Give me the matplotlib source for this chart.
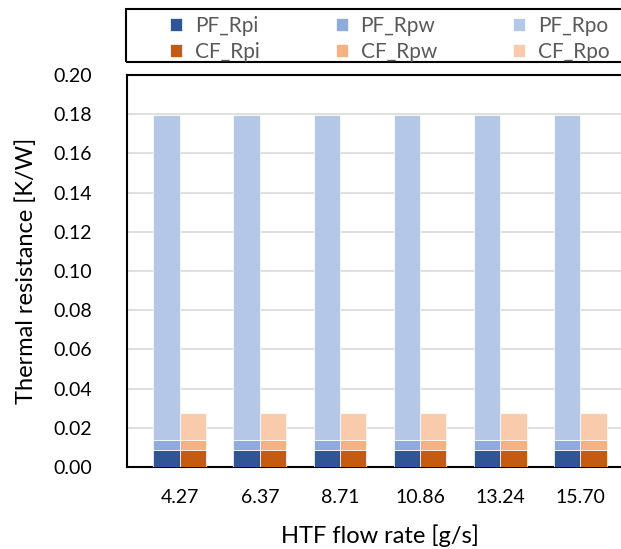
import matplotlib.pyplot as plt
import numpy as np
from matplotlib.patches import Rectangle

plt.rcParams['font.family'] = ['Lato', 'DejaVu Sans']

flow = ['4.27', '6.37', '8.71', '10.86', '13.24', '15.70']
pf_rpi = [0.0086] * 6
pf_rpw = [0.0051] * 6
pf_rpo = [0.1660] * 6
cf_rpi = [0.0086] * 6
cf_rpw = [0.0051] * 6
cf_rpo = [0.0136] * 6

c_pf = ['#2F5597', '#8FAADC', '#B4C7E7']
c_cf = ['#C55A11', '#F4B183', '#F8CBAD']

fig = plt.figure(figsize=(6.21, 5.49), dpi=100)
ax = fig.add_axes([127/621, 1-467/549, 506/621, 392/549])

x = np.arange(len(flow))
w = 0.33

hs = []
bot = np.zeros(len(flow))
for vals, c, lab in zip([pf_rpi, pf_rpw, pf_rpo], c_pf, ['PF_Rpi', 'PF_Rpw', 'PF_Rpo']):
    h = ax.bar(x - w/2, vals, w, bottom=bot, color=c, edgecolor='white', linewidth=0.5, label=lab, zorder=3)
    hs.append(h)
    bot += np.array(vals)
bot = np.zeros(len(flow))
for vals, c, lab in zip([cf_rpi, cf_rpw, cf_rpo], c_cf, ['CF_Rpi', 'CF_Rpw', 'CF_Rpo']):
    h = ax.bar(x + w/2, vals, w, bottom=bot, color=c, edgecolor='white', linewidth=0.5, label=lab, zorder=3)
    hs.append(h)
    bot += np.array(vals)

ax.set_xlim(-0.66, 5.66)
ax.set_ylim(0, 0.2)
ax.set_yticks(np.arange(0, 0.201, 0.02))
ax.set_yticklabels(['%.2f' % v for v in np.arange(0, 0.201, 0.02)])
ax.set_xticks(x)
ax.set_xticklabels(flow)
ax.tick_params(axis='y', length=0, pad=25, labelsize=14)
ax.tick_params(axis='x', length=0, pad=16, labelsize=14)
ax.grid(axis='y', color='#D9D9D9', linewidth=1.2, zorder=0)
for s in ax.spines.values():
    s.set_color('black')
    s.set_linewidth(1.5)
ax.set_xlabel('HTF flow rate [g/s]', fontsize=17, labelpad=13)
ax.set_ylabel('Thermal resistance [K/W]', fontsize=17, labelpad=12)

# legend box
fig.patches.append(Rectangle((126/621, 1-62/549), 510/621, 53/549, transform=fig.transFigure,
                             fill=False, edgecolor='black', linewidth=1.5))
order = [0, 3, 1, 4, 2, 5]
leg = fig.legend([hs[i] for i in order], [hs[i].get_label() for i in order], ncol=3,
                 loc='upper left', bbox_to_anchor=(151/621, 1 + 3/549), frameon=False,
                 fontsize=15, handlelength=0.6, handleheight=0.6, handletextpad=0.6,
                 columnspacing=3.65, labelspacing=0.3, labelcolor='#595959')

fig.savefig('out.png', dpi=100)
